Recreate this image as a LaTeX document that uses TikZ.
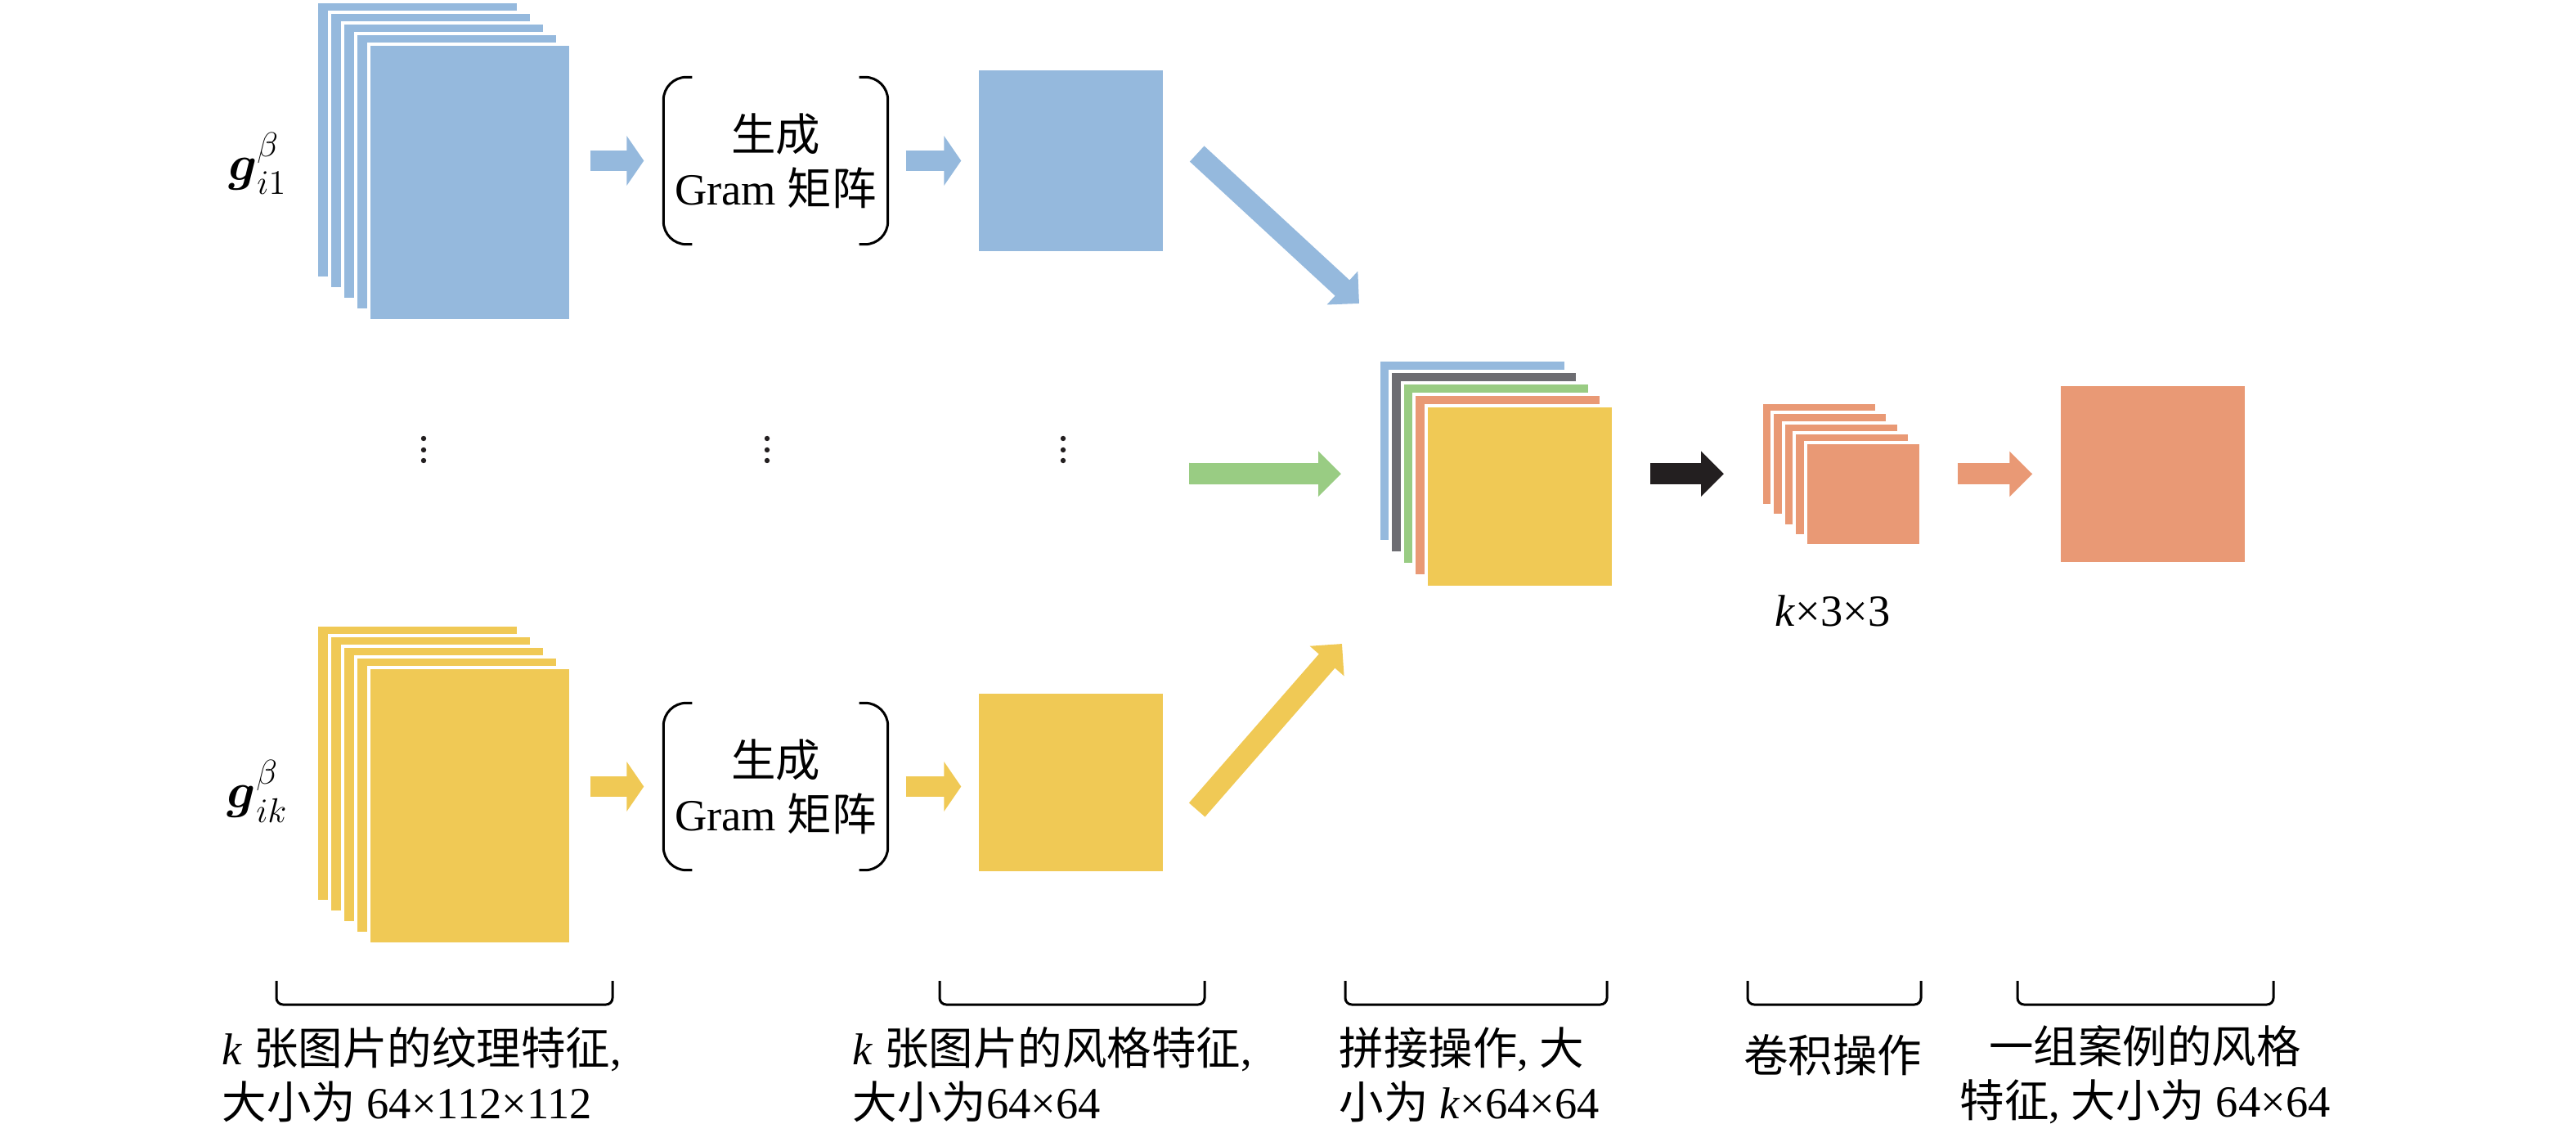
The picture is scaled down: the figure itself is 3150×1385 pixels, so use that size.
\documentclass[tikz,border=0pt]{standalone}
\usepackage{amsmath}
\usepackage{fontspec}
\setmainfont{Liberation Serif}
\newfontfamily\cjk{Noto Sans CJK SC}
\newcommand{\zh}[1]{{\cjk #1}}
\usetikzlibrary{arrows.meta,calc}
\definecolor{cblue}{HTML}{95B9DD}
\definecolor{cyellow}{HTML}{F0C955}
\definecolor{cgreen}{HTML}{99CC83}
\definecolor{corange}{HTML}{E99975}
\definecolor{cgray}{HTML}{6D6D72}
\definecolor{cblack}{HTML}{231F20}
\begin{document}
\begin{tikzpicture}[x=0.1mm,y=-0.1mm,every node/.style={font=\fontsize{15.5pt}{18.8pt}\selectfont},sheet/.style={draw=white,line width=0.4mm,inner sep=0pt},plate/.style={inner sep=0pt,minimum width=22.5mm},gram/.style={align=center,inner sep=0pt,minimum width=27.3mm,minimum height=20.3mm},paren/.style={line width=0.3mm,rounded corners=2.8mm},underbar/.style={line width=0.3mm,rounded corners=0.8mm},fatarrow/.style={line width=2.6mm,-{Triangle[length=2.8mm,width=5.4mm]}},smallarrow/.style={line width=2.5mm,-{Triangle[length=2.1mm,width=6mm]}}]
\useasboundingbox (0,0) rectangle (3150,1385);
\foreach \i in {0,...,4} \node[sheet,fill=cblue,minimum width=24.7mm,minimum height=33.8mm] (ga\i) at ({510+16*\i},{171+13*\i}) {};
\foreach \i in {0,...,4} \node[sheet,fill=cyellow,minimum width=24.7mm,minimum height=33.8mm] (gk\i) at ({510+16*\i},{933+13*\i}) {};
\node[font=\fontsize{17pt}{20pt}\selectfont] (la) at (315,200) {$\boldsymbol{g}_{i1}^{\beta}$};
\node[font=\fontsize{17pt}{20pt}\selectfont] (lk) at (315,967) {$\boldsymbol{g}_{ik}^{\beta}$};
\node[gram] (gra) at (948.5,196.5) {\zh{生成}\\Gram \zh{矩阵}};
\node[gram] (grk) at (948.5,961.5) {\zh{生成}\\Gram \zh{矩阵}};
\draw[paren] ([xshift=3.5mm]gra.north west) -- (gra.north west) -- (gra.south west) -- ([xshift=3.5mm]gra.south west);
\draw[paren] ([xshift=-3.5mm]gra.north east) -- (gra.north east) -- (gra.south east) -- ([xshift=-3.5mm]gra.south east);
\draw[paren] ([xshift=3.5mm]grk.north west) -- (grk.north west) -- (grk.south west) -- ([xshift=3.5mm]grk.south west);
\draw[paren] ([xshift=-3.5mm]grk.north east) -- (grk.north east) -- (grk.south east) -- ([xshift=-3.5mm]grk.south east);
\node[plate,fill=cblue,minimum height=22.1mm] (sa) at (1309.5,196.5) {};
\node[plate,fill=cyellow,minimum height=21.7mm] (sk) at (1309.5,956.5) {};
\foreach \x in {518,938,1300} \foreach \y in {536,550,563} \fill[cblack] (\x,\y) circle[radius=0.32mm];
\foreach \c [count=\i from 0] in {cblue,cgray,cgreen,corange,cyellow} \node[sheet,fill=\c,minimum width=22.9mm,minimum height=22.2mm] (cat\i) at ({1800+14.5*\i},{551+14.1*\i}) {};
\foreach \i in {0,...,4} \node[sheet,fill=corange,minimum width=14.1mm,minimum height=12.6mm] (kn\i) at ({2224+13.6*\i},{555+12.3*\i}) {};
\node[plate,fill=corange,minimum height=21.5mm] (out) at (2632.5,579.5) {};
\node (kdim) at (2241,747) {\textit{k}×3×3};
\coordinate (gtail) at (1454,579);
\draw[smallarrow,cblue] ($(ga4.east |- gra.west)+(22,0)$) -- ($(gra.west)+(-24,0)$);
\draw[smallarrow,cblue] ($(gra.east)+(22,0)$) -- ($(sa.west)+(-21,0)$);
\draw[smallarrow,cyellow] ($(gk4.east |- grk.west)+(22,0)$) -- ($(grk.west)+(-24,0)$);
\draw[smallarrow,cyellow] ($(grk.east)+(22,0)$) -- ($(sk.west |- grk.east)+(-21,0)$);
\draw[fatarrow,cblue] ($(sa.east)+(41,-8.5)$) -- ($(cat0.north west)+(-21.5,-67)$);
\draw[fatarrow,cyellow] ($(sk.east)+(41,33.5)$) -- ($(cat0.south west)+(-42.5,123)$);
\draw[fatarrow,cgreen] (gtail) -- ($(cat0.west |- cat2.center)+(-43.5,0)$);
\draw[fatarrow,cblack] ($(cat4.east |- cat2.center)+(43.5,0)$) -- ($(kn0.west |- cat2.center)+(-43.5,0)$);
\draw[fatarrow,corange] ($(kn4.east |- out.west)+(43,0)$) -- ($(out.west)+(-34,0)$);
\foreach \a/\b in {338/749,1149/1473,1645/1965,2137/2349,2467/2780} \draw[underbar] (\a,1199) -- (\a,1228) -- (\b,1228) -- (\b,1199);
\node[anchor=west,align=left,inner sep=0pt] (ta) at (271,1314) {\textit{k} \zh{张图片的纹理特征},\\\zh{大小为} 64×112×112};
\node[anchor=west,align=left,inner sep=0pt] (tb) at (1042,1314) {\textit{k} \zh{张图片的风格特征},\\\zh{大小为}64×64};
\node[anchor=west,align=left,inner sep=0pt] (tc) at (1637,1314) {\zh{拼接操作}, \zh{大}\\\zh{小为} \textit{k}×64×64};
\node (td) at (2241,1290) {\zh{卷积操作}};
\node[align=center,inner sep=0pt] (te) at (2623,1314) {\zh{一组案例的风格}\\\zh{特征}, \zh{大小为} 64×64};
\end{tikzpicture}
\end{document}
